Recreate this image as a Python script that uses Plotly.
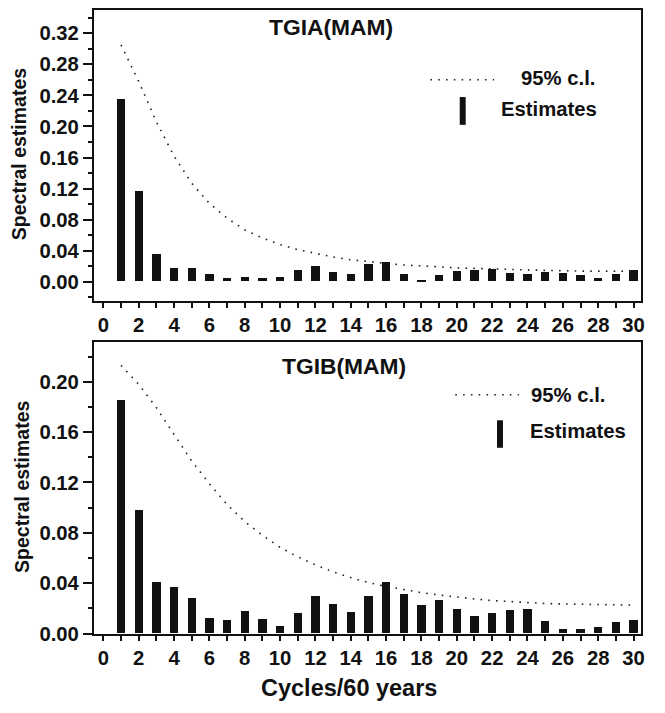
import plotly.graph_objects as go

# The page body keeps its default 8px margin, so the figure starts 8px in and reaches the window's edges
OFF = 8
W, H = 665 - OFF, 713 - OFF

cycles = list(range(1, 31))
x_ticks = list(range(0, 31, 2))

tgia_estimates = [0.2345, 0.1158, 0.0358, 0.0177, 0.0168, 0.0093, 0.0050, 0.0059, 0.0042, 0.0059,
                  0.0147, 0.0202, 0.0126, 0.0093, 0.0227, 0.0253, 0.0101, 0.0017, 0.0076, 0.0131,
                  0.0143, 0.0156, 0.0114, 0.0093, 0.0126, 0.0110, 0.0084, 0.0050, 0.0093, 0.0143]
tgia_cl95 = [0.305, 0.258, 0.206, 0.162, 0.127, 0.101, 0.082, 0.067, 0.0565, 0.048,
             0.0415, 0.0363, 0.032, 0.0284, 0.0262, 0.0236, 0.0217, 0.0206, 0.019, 0.018,
             0.0173, 0.0164, 0.0157, 0.0154, 0.0148, 0.0141, 0.0139, 0.0139, 0.0139, 0.0139]

tgib_estimates = [0.1849, 0.0974, 0.0410, 0.0364, 0.0281, 0.0122, 0.0104, 0.0174, 0.0114, 0.0057,
                  0.0156, 0.0291, 0.0229, 0.0169, 0.0294, 0.0405, 0.0314, 0.0221, 0.0260, 0.0192,
                  0.0135, 0.0158, 0.0184, 0.0190, 0.0096, 0.0034, 0.0031, 0.0047, 0.0088, 0.0106]
tgib_cl95 = [0.213, 0.198, 0.1795, 0.158, 0.137, 0.119, 0.1025, 0.089, 0.078, 0.0685,
             0.061, 0.0546, 0.049, 0.0445, 0.0405, 0.0375, 0.0347, 0.0325, 0.0306, 0.0288,
             0.0275, 0.0262, 0.0253, 0.0245, 0.0239, 0.0235, 0.0232, 0.0229, 0.0228, 0.0226]

panel_titles = ["TGIA(MAM)", "TGIB(MAM)"]
legend_labels = ["95% c.l.", "Estimates"]
y_title = "Spectral estimates"
x_title = "Cycles/60 years"

FONT = "Liberation Sans"
INK = "#111111"
DOT = "1.6px,6.2px"


def px(x):
    return min(1.0, max(0.0, (x - OFF) / W))


def py(y):
    return min(1.0, max(0.0, 1 - (y - OFF) / H))


fig = go.Figure()

fig.add_trace(go.Bar(x=cycles, y=tgia_estimates, width=0.47, marker=dict(color=INK, line=dict(width=0)),
                     xaxis="x", yaxis="y", showlegend=False))
fig.add_trace(go.Scatter(x=cycles, y=tgia_cl95, mode="lines", line=dict(color="#222", width=1.6, dash=DOT),
                         xaxis="x", yaxis="y", showlegend=False))
fig.add_trace(go.Bar(x=cycles, y=tgib_estimates, width=0.47, marker=dict(color=INK, line=dict(width=0)),
                     xaxis="x2", yaxis="y2", showlegend=False))
fig.add_trace(go.Scatter(x=cycles, y=tgib_cl95, mode="lines", line=dict(color="#222", width=1.6, dash=DOT),
                         xaxis="x2", yaxis="y2", showlegend=False))

tickfont = dict(family=FONT, size=20.3, color=INK, weight="bold")
xdom = [px(94.5), px(645)]

common_x = dict(range=[-0.53, 30.43], tickmode="array", tickvals=x_ticks, ticktext=[str(v) for v in x_ticks],
                ticks="outside", ticklen=5, tickwidth=1.5, tickcolor=INK,
                minor=dict(dtick=1, tick0=0, ticks="outside", ticklen=5, tickwidth=1.5, tickcolor=INK),
                showline=True, linewidth=2, linecolor=INK, mirror=True, showgrid=False, zeroline=False,
                tickfont=tickfont, domain=xdom, fixedrange=True)
common_y = dict(dtick=0.04, tick0=0, tickformat=".2f", ticks="outside", ticklen=9, tickwidth=1.5, tickcolor=INK,
                minor=dict(dtick=0.02, tick0=0, ticks="outside", ticklen=4, tickwidth=1.5, tickcolor=INK),
                showline=True, linewidth=2, linecolor=INK, mirror=True, showgrid=False, zeroline=False,
                tickfont=tickfont, fixedrange=True)

fig.update_layout(
    width=W, height=H, margin=dict(l=0, r=0, t=0, b=0),
    paper_bgcolor="white", plot_bgcolor="white", bargap=0,
    xaxis=dict(anchor="y", **common_x),
    yaxis=dict(anchor="x", domain=[py(304.3), py(8.5)], range=[-0.0244, 0.3493], **common_y),
    xaxis2=dict(anchor="y2", **common_x),
    yaxis2=dict(anchor="x2", domain=[py(643.3), py(346.7)], range=[0, 0.2312], **common_y),
)


def bold(s):
    return dict(family=FONT, size=s, color=INK, weight="bold")


def text(x, y, t, size, xanchor="center", angle=0):
    return dict(x=px(x), y=py(y), text=t, showarrow=False, xref="paper", yref="paper",
                xanchor=xanchor, yanchor="middle", textangle=angle, font=bold(size))


ann = [
    text(332.5, 25, panel_titles[0], 22.8),
    text(346.5, 370.5, panel_titles[1], 22.8),
    text(19, 155, y_title, 19.5, angle=-90),
    text(22, 494, y_title, 19.5, angle=-90),
    text(351.5, 699, x_title, 23.5),
    text(522, 77, legend_labels[0], 20.3, xanchor="left"),
    text(502, 109, legend_labels[1], 20.3, xanchor="left"),
    text(532, 400, legend_labels[0], 20.3, xanchor="left"),
    text(531, 437, legend_labels[1], 20.3, xanchor="left"),
]
fig.update_layout(annotations=ann)

shapes = [
    dict(type="line", xref="paper", yref="paper", x0=px(433), x1=px(497), y0=py(79), y1=py(79),
         line=dict(color="#222", width=1.6, dash=DOT)),
    dict(type="rect", xref="paper", yref="paper", x0=px(462.5), x1=px(468.5), y0=py(125), y1=py(96.7),
         fillcolor=INK, line=dict(width=0)),
    dict(type="line", xref="paper", yref="paper", x0=px(458), x1=px(522), y0=py(400), y1=py(400),
         line=dict(color="#222", width=1.6, dash=DOT)),
    dict(type="rect", xref="paper", yref="paper", x0=px(500), x1=px(506), y0=py(454), y1=py(426),
         fillcolor=INK, line=dict(width=0)),
]
fig.update_layout(shapes=shapes)

fig.write_html("out.html")
